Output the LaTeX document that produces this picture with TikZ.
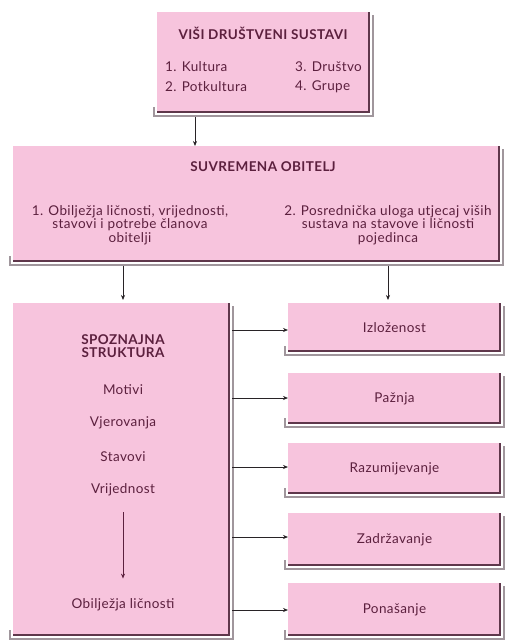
\documentclass[tikz,border=0pt]{standalone}
\usepackage{fontspec}
\setmainfont{Lato}[LetterSpace=3]
\usetikzlibrary{arrows.meta}
\definecolor{boxpink}{RGB}{247,196,221}
\definecolor{txt}{RGB}{92,32,62}
\definecolor{darkline}{RGB}{95,55,75}
\definecolor{shadowgray}{RGB}{160,150,156}
\definecolor{arrowc}{RGB}{40,35,38}
\tikzset{
  box/.style={draw=none, fill=boxpink, inner sep=0pt, outer sep=0pt, anchor=north west},
  lbl/.style={text=txt, font=\fontsize{13.5}{13.5}\selectfont, align=center, inner sep=0pt},
  hdr/.style={lbl, font=\bfseries\fontsize{13.5}{13.5}\selectfont},
  arr/.style={-{Stealth[length=5pt,width=4pt]}, draw=arrowc, line width=0.7pt},
  inarr/.style={-{Stealth[length=5pt,width=4pt]}, draw=txt, line width=0.9pt},
  shgray/.style={draw=shadowgray, line width=2pt},
  shdark/.style={draw=darkline, line width=1.6pt},
}
\newcommand\myshadow[1]{%
  \draw[shgray] ([xshift=-3pt,yshift=6pt]#1.south west) -- ([xshift=-3pt,yshift=-2.6pt]#1.south west)
     -- ([xshift=2.6pt,yshift=-2.6pt]#1.south east) -- ([xshift=2.6pt,yshift=-3pt]#1.north east);
  \draw[shdark] ([yshift=0.8pt]#1.south west) -- ([xshift=-0.8pt,yshift=0.8pt]#1.south east) -- ([xshift=-0.8pt]#1.north east);
}
\begin{document}
\begin{tikzpicture}[x=1pt,y=-1pt]
\useasboundingbox[fill=white] (0,0) rectangle (504,643);
% boxes
\node[box, minimum width=213pt, minimum height=101pt] (top) at (157,12) {};
\node[box, minimum width=487pt, minimum height=116pt] (mid) at (13,146) {};
\node[box, minimum width=217pt, minimum height=333pt] (left) at (13,303) {};
\node[box, minimum width=213pt, minimum height=49pt] (r1) at (288,303) {};
\node[box, minimum width=213pt, minimum height=51pt] (r2) at (288,373) {};
\node[box, minimum width=213pt, minimum height=51pt] (r3) at (288,443) {};
\node[box, minimum width=213pt, minimum height=53pt] (r4) at (288,513) {};
\node[box, minimum width=213pt, minimum height=53pt] (r5) at (288,583) {};
\foreach \b in {top,mid,left,r1,r2,r3,r4,r5} {\myshadow{\b}}
% top texts
\node[hdr] (tophdr) at (263,33) {VIŠI DRUŠTVENI SUSTAVI};
\node[lbl, anchor=west] (t1) at (165,67) {1. Kultura};
\node[lbl, anchor=west] (t2) at (165,87) {2. Potkultura};
\node[lbl, anchor=west] (t3) at (295,67) {3. Društvo};
\node[lbl, anchor=west] (t4) at (295,87) {4. Grupe};
% middle texts
\node[hdr] (midhdr) at (263,167) {SUVREMENA OBITELJ};
\node[lbl] (m1) at (130,225) {1. Obilježja ličnosti, vrijednosti,\\stavovi i potrebe članova\\obitelji};
\node[lbl] (m2) at (388,225) {2. Posrednička uloga utjecaj viših\\sustava na stavove i ličnosti\\pojedinca};
% left texts
\node[hdr] (lhdr) at (123,346) {SPOZNAJNA\\STRUKTURA};
\node[lbl] (l1) at (123,390) {Motivi};
\node[lbl] (l2) at (123,423) {Vjerovanja};
\node[lbl] (l3) at (123,457) {Stavovi};
\node[lbl] (l4) at (123,490) {Vrijednost};
\coordinate (ia) at (123,512);
\node[lbl] (l5) at (123,605) {Obilježja ličnosti};
\draw[inarr] (ia) -- ([yshift=20pt]l5.north);
% right texts
\node[lbl] at (r1.center) {Izloženost};
\node[lbl] at (r2.center) {Pažnja};
\node[lbl] at (r3.center) {Razumijevanje};
\node[lbl] at (r4.center) {Zadržavanje};
\node[lbl] at (r5.center) {Ponašanje};
% connectors
\draw[arr] ([xshift=38pt,yshift=-4pt]top.south west) -- ([xshift=182pt]mid.north west);
\draw[arr] ([xshift=110pt,yshift=-4pt]mid.south west) -- ([xshift=110pt,yshift=3pt]left.north west);
\draw[arr] ([xshift=375pt,yshift=-4pt]mid.south west) -- ([xshift=100pt,yshift=3pt]r1.north west);
\foreach \r/\yy in {r1/330,r2/398,r3/467,r4/537,r5/610} {
  \draw[arr] (232,\yy) -- (\r.west |- 0,\yy);
}
\end{tikzpicture}
\end{document}
